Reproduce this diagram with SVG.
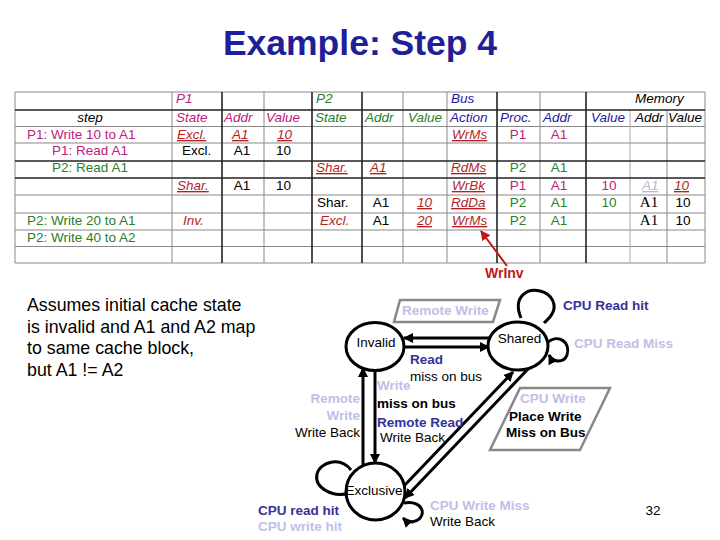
<svg xmlns="http://www.w3.org/2000/svg" width="720" height="540" viewBox="0 0 720 540">
<style>
text{font-family:"Liberation Sans",Arial,sans-serif}
.t{font-size:13.5px}
.i{font-style:italic}
.u{text-decoration:underline}
.m{text-anchor:middle}
.mag{fill:#c0207c}.grn{fill:#2a7f2a}.blu{fill:#1c1c9c}.red{fill:#b51f1f}.blk{fill:#000}.fad{fill:#b8b8dc}
.serif{font-family:"Liberation Serif","Times New Roman",serif;font-size:15px}
.gl{stroke:#888;stroke-width:1}
.dl{stroke:#222;stroke-width:1.6}
.lbl{font-size:13.5px}
.b{font-weight:bold}
.dbl{fill:#333399}.lav{fill:#c0c0e6}
.node{fill:#fff;stroke:#000;stroke-width:3}
.conn{fill:none;stroke:#000;stroke-width:3}
.box{fill:none;stroke:#888;stroke-width:2.5}
</style>
<defs>
<marker id="ah" viewBox="0 0 10 10" refX="9" refY="5" markerWidth="10" markerHeight="10" markerUnits="userSpaceOnUse" orient="auto"><path d="M0,0 L10,5 L0,10 z" fill="#000"/></marker>
<marker id="ahr" viewBox="0 0 10 10" refX="9" refY="5" markerWidth="10" markerHeight="10" markerUnits="userSpaceOnUse" orient="auto"><path d="M0,0 L10,5 L0,10 z" fill="#c01818"/></marker>
</defs>
<rect width="720" height="540" fill="#fff"/>
<text x="360" y="55" text-anchor="middle" font-size="35.5" font-weight="bold" fill="#1f1f99">Example: Step 4</text>

<g id="table">
<g class="gl">
<line x1="15" y1="92" x2="705" y2="92"/>
<line x1="15" y1="126.5" x2="705" y2="126.5"/>
<line x1="15" y1="143" x2="705" y2="143"/>
<line x1="15" y1="195" x2="705" y2="195"/>
<line x1="15" y1="213" x2="705" y2="213"/>
<line x1="15" y1="230" x2="705" y2="230"/>
<line x1="15" y1="246.5" x2="705" y2="246.5"/>
<line x1="15" y1="263" x2="705" y2="263"/>
<line x1="15" y1="92" x2="15" y2="263"/>
<line x1="172" y1="92" x2="172" y2="263"/>
<line x1="264" y1="92" x2="264" y2="263"/>
<line x1="403" y1="92" x2="403" y2="263"/>
<line x1="447" y1="92" x2="447" y2="263"/>
<line x1="540" y1="92" x2="540" y2="263"/>
<line x1="630" y1="110" x2="630" y2="263" stroke="#aaa"/>
<line x1="667" y1="110" x2="667" y2="263"/>
<line x1="705" y1="92" x2="705" y2="263"/>
</g>
<g class="dl">
<line x1="15" y1="110" x2="705" y2="110"/>
<line x1="15" y1="161" x2="705" y2="161"/>
<line x1="15" y1="178" x2="705" y2="178"/>
<line x1="222" y1="92" x2="222" y2="263"/>
<line x1="312" y1="92" x2="312" y2="263"/>
<line x1="362" y1="92" x2="362" y2="263"/>
<line x1="497" y1="92" x2="497" y2="263"/>
<line x1="586" y1="92" x2="586" y2="263"/>
</g>
<g class="t">
<text x="176" y="103" class="i mag">P1</text>
<text x="316" y="103" class="i grn">P2</text>
<text x="451" y="103" class="i blu">Bus</text>
<text x="635" y="103" class="i blk">Memory</text>

<text x="90" y="122" class="i blk m">step</text>
<text x="176" y="122" class="i mag">State</text>
<text x="224" y="122" class="i mag">Addr</text>
<text x="266" y="122" class="i mag">Value</text>
<text x="315" y="122" class="i grn">State</text>
<text x="365" y="122" class="i grn">Addr</text>
<text x="408" y="122" class="i grn">Value</text>
<text x="450" y="122" class="i blu">Action</text>
<text x="500" y="122" class="i blu">Proc.</text>
<text x="543" y="122" class="i blu">Addr</text>
<text x="591" y="122" class="i blu">Value</text>
<text x="635" y="122" class="i blk">Addr</text>
<text x="668" y="122" class="i blk">Value</text>

<text x="27" y="139" class="mag">P1: Write 10 to A1</text>
<text x="177" y="139" class="i u red">Excl.</text>
<text x="232" y="139" class="i u red">A1</text>
<text x="277" y="139" class="i u red">10</text>
<text x="452" y="139" class="i u red">WrMs</text>
<text x="518" y="139" class="mag m">P1</text>
<text x="559" y="139" class="mag m">A1</text>

<text x="90" y="155" class="mag m">P1: Read A1</text>
<text x="182" y="155" class="blk">Excl.</text>
<text x="242" y="155" class="blk m">A1</text>
<text x="276" y="155" class="blk">10</text>

<text x="90" y="172" class="grn m">P2: Read A1</text>
<text x="316" y="172" class="i u red">Shar.</text>
<text x="370" y="172" class="i u red">A1</text>
<text x="451" y="172" class="i u red">RdMs</text>
<text x="518" y="172" class="grn m">P2</text>
<text x="559" y="172" class="grn m">A1</text>

<text x="177" y="190" class="i u red">Shar.</text>
<text x="242" y="190" class="blk m">A1</text>
<text x="276" y="190" class="blk">10</text>
<text x="452" y="190" class="i u red">WrBk</text>
<text x="518" y="190" class="mag m">P1</text>
<text x="559" y="190" class="mag m">A1</text>
<text x="609" y="190" class="mag m">10</text>
<text x="642" y="190" class="i u fad">A1</text>
<text x="674" y="190" class="i u red">10</text>

<text x="317" y="207" class="blk">Shar.</text>
<text x="381" y="207" class="blk m">A1</text>
<text x="417" y="207" class="i u red">10</text>
<text x="451" y="207" class="i u red">RdDa</text>
<text x="518" y="207" class="grn m">P2</text>
<text x="559" y="207" class="grn m">A1</text>
<text x="609" y="207" class="grn m">10</text>
<text x="649" y="207" class="serif blk m">A1</text>
<text x="683" y="207" class="blk m">10</text>

<text x="27" y="225" class="grn">P2: Write 20 to A1</text>
<text x="183" y="225" class="i red">Inv.</text>
<text x="320" y="225" class="i red">Excl.</text>
<text x="381" y="225" class="blk m">A1</text>
<text x="417" y="225" class="i u red">20</text>
<text x="452" y="225" class="i u red">WrMs</text>
<text x="518" y="225" class="grn m">P2</text>
<text x="559" y="225" class="grn m">A1</text>
<text x="649" y="225" class="serif blk m">A1</text>
<text x="683" y="225" class="blk m">10</text>

<text x="27" y="242" class="grn">P2: Write 40 to A2</text>
</g>
</g>

<g id="wrinv">
<line x1="507" y1="266" x2="481" y2="231" stroke="#c01818" stroke-width="2" marker-end="url(#ahr)"/>
<text x="485" y="278" font-size="14" font-weight="bold" fill="#c01818">WrInv</text>
</g>

<g id="assumption" font-size="17.8" fill="#000">
<text x="27" y="311">Assumes initial cache state</text>
<text x="27" y="333">is invalid and A1 and A2 map</text>
<text x="27" y="354">to same cache block,</text>
<text x="27" y="376">but A1 != A2</text>
</g>

<g id="connectors">
<line class="conn" x1="489" y1="338" x2="404" y2="338" marker-end="url(#ah)"/>
<line class="conn" x1="403" y1="347" x2="489" y2="347" marker-end="url(#ah)"/>
<line class="conn" x1="363" y1="467" x2="363" y2="368" marker-end="url(#ah)"/>
<line class="conn" x1="375" y1="370" x2="375" y2="463" marker-end="url(#ah)"/>
<line class="conn" x1="403" y1="487" x2="513" y2="372" marker-end="url(#ah)"/>
<line class="conn" x1="528" y1="369" x2="405" y2="498" marker-end="url(#ah)"/>
<path class="conn" d="M521,318 C512,296 528,288 540,291 C553,294 557,306 552,314 C550,318 547,320 544,323"/>
<path class="conn" d="M547,343 C558,333 571,342 567,355 C564,363 553,363 549,355" marker-end="url(#ah)"/>
<path class="conn" d="M351,470 C340,456 320,462 317,474 C314,488 333,498 349,493"/>
<path class="conn" d="M404,503 C424,499 429,519 412,522 C409,522 406,521 403,518" marker-end="url(#ah)"/>
</g>

<g id="invalid">
<ellipse class="node" cx="375" cy="346.5" rx="29" ry="24"/>
<text x="376" y="347" class="lbl m">Invalid</text>
</g>
<g id="shared">
<ellipse class="node" cx="518" cy="346" rx="30" ry="24"/>
<text x="519.5" y="343" class="lbl m">Shared</text>
</g>
<g id="exclusive">
<ellipse class="node" cx="375.5" cy="491.5" rx="29.5" ry="28.5"/>
<text x="374" y="495" class="lbl m">Exclusive</text>
</g>

<g id="labels" class="lbl">
<polygon class="box" points="400,300 500,300 493,322 394,322"/>
<text x="402" y="315" class="b lav">Remote Write</text>
<text x="563" y="310" class="b dbl">CPU Read hit</text>
<text x="574" y="348" class="b lav">CPU Read Miss</text>
<polygon class="box" points="520,388 610,388 580,450 490,450"/>
<text x="520" y="403" class="b lav">CPU Write</text>
<text x="509" y="420.5" class="b">Place Write</text>
<text x="506" y="436.5" class="b">Miss on Bus</text>
<text x="410" y="364" class="b dbl">Read</text>
<text x="410" y="380.5">miss on bus</text>
<text x="377" y="390" class="b lav">Write</text>
<text x="377" y="408" class="b">miss on bus</text>
<text x="377" y="426.5" class="b dbl">Remote Read</text>
<text x="380" y="441.5">Write Back</text>
<text x="360" y="403" class="b lav" text-anchor="end">Remote</text>
<text x="360" y="420" class="b lav" text-anchor="end">Write</text>
<text x="360" y="437" text-anchor="end">Write Back</text>
<text x="258" y="515" class="b dbl">CPU read hit</text>
<text x="258" y="531" class="b lav">CPU write hit</text>
<text x="430" y="510" class="b lav">CPU Write Miss</text>
<text x="430" y="526">Write Back</text>
<text x="653" y="515" class="m">32</text>
</g>
</svg>
